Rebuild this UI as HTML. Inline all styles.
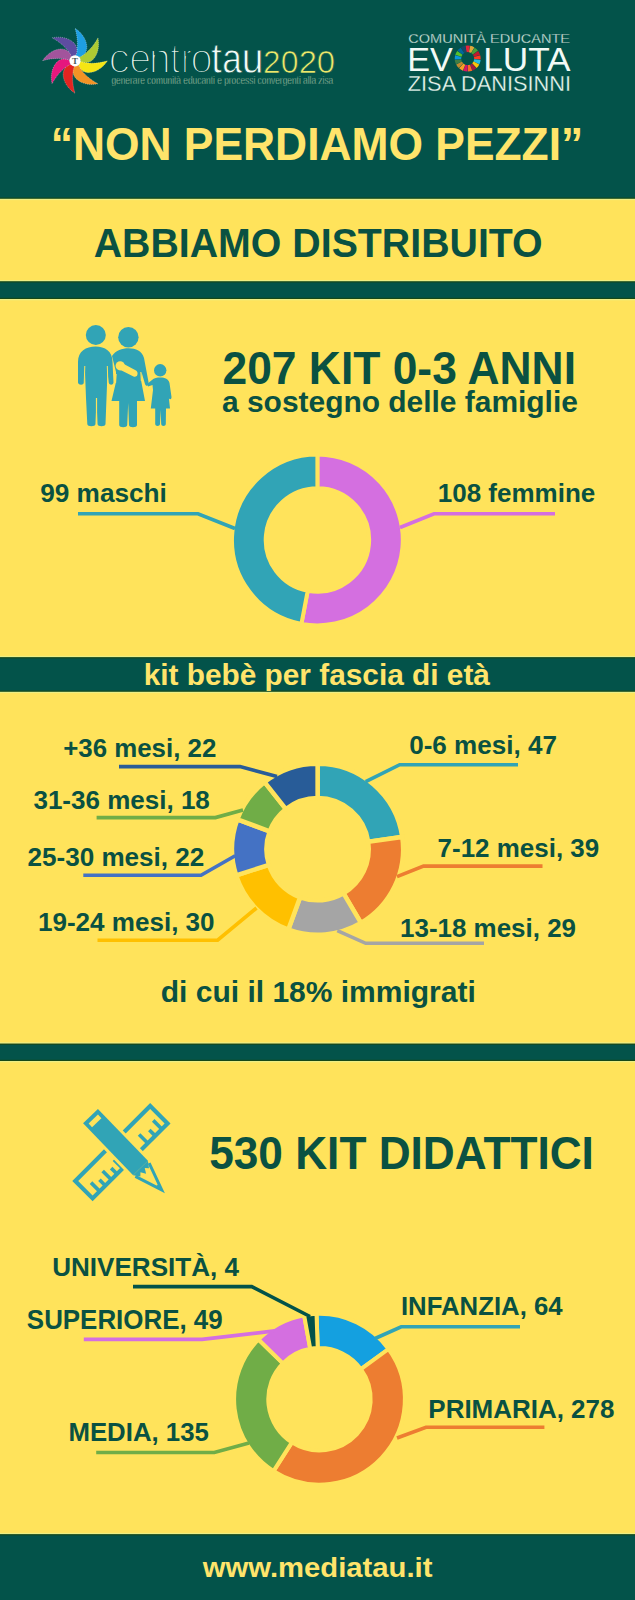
<!DOCTYPE html>
<html><head><meta charset="utf-8"><style>
html,body{margin:0;padding:0;background:#FFE35B;}
body{width:635px;height:1600px;overflow:hidden;position:relative;}
svg{position:absolute;left:0;top:0;font-family:"Liberation Sans",sans-serif;}
</style></head><body>
<svg width="635" height="1600" viewBox="0 0 635 1600">
<rect x="0" y="-5" width="635" height="203.80" fill="#03534A"/>
<rect x="0" y="197.60" width="635" height="1.2" fill="#1A4712" opacity="0.9"/>
<rect x="0" y="198.80" width="635" height="1.3" fill="#E9F08E" opacity="0.8"/>
<rect x="0" y="281.3" width="635" height="17.70" fill="#03534A"/>
<rect x="0" y="280.00" width="635" height="1.3" fill="#E9F08E" opacity="0.8"/>
<rect x="0" y="281.30" width="635" height="1.2" fill="#1A4712" opacity="0.8"/>
<rect x="0" y="297.80" width="635" height="1.2" fill="#1A4712" opacity="0.9"/>
<rect x="0" y="299.00" width="635" height="1.3" fill="#E9F08E" opacity="0.8"/>
<rect x="0" y="657.2" width="635" height="34.60" fill="#03534A"/>
<rect x="0" y="655.90" width="635" height="1.3" fill="#E9F08E" opacity="0.8"/>
<rect x="0" y="657.20" width="635" height="1.2" fill="#1A4712" opacity="0.8"/>
<rect x="0" y="690.60" width="635" height="1.2" fill="#1A4712" opacity="0.9"/>
<rect x="0" y="691.80" width="635" height="1.3" fill="#E9F08E" opacity="0.8"/>
<rect x="0" y="1043.6" width="635" height="17.40" fill="#03534A"/>
<rect x="0" y="1042.30" width="635" height="1.3" fill="#E9F08E" opacity="0.8"/>
<rect x="0" y="1043.60" width="635" height="1.2" fill="#1A4712" opacity="0.8"/>
<rect x="0" y="1059.80" width="635" height="1.2" fill="#1A4712" opacity="0.9"/>
<rect x="0" y="1061.00" width="635" height="1.3" fill="#E9F08E" opacity="0.8"/>
<rect x="0" y="1534.2" width="635" height="70.80" fill="#03534A"/>
<rect x="0" y="1532.90" width="635" height="1.3" fill="#E9F08E" opacity="0.8"/>
<rect x="0" y="1534.20" width="635" height="1.2" fill="#1A4712" opacity="0.8"/>
<path d="M0.5,-5 C3,-12 3.2,-22 0,-32.5 C6,-28.5 11,-22.5 11.8,-15 C12.3,-9 9,-5 5,-3.5 Z" fill="#1E9FE3" stroke="#ffffff" stroke-opacity="0.55" stroke-width="0.6" stroke-dasharray="1 1" transform="translate(75,60.8) rotate(0)"/>
<path d="M0.5,-5 C3,-12 3.2,-22 0,-32.5 C6,-28.5 11,-22.5 11.8,-15 C12.3,-9 9,-5 5,-3.5 Z" fill="#AECB32" stroke="#ffffff" stroke-opacity="0.55" stroke-width="0.6" stroke-dasharray="1 1" transform="translate(75,60.8) rotate(45)"/>
<path d="M0.5,-5 C3,-12 3.2,-22 0,-32.5 C6,-28.5 11,-22.5 11.8,-15 C12.3,-9 9,-5 5,-3.5 Z" fill="#F5E614" stroke="#ffffff" stroke-opacity="0.55" stroke-width="0.6" stroke-dasharray="1 1" transform="translate(75,60.8) rotate(90)"/>
<path d="M0.5,-5 C3,-12 3.2,-22 0,-32.5 C6,-28.5 11,-22.5 11.8,-15 C12.3,-9 9,-5 5,-3.5 Z" fill="#F39325" stroke="#ffffff" stroke-opacity="0.55" stroke-width="0.6" stroke-dasharray="1 1" transform="translate(75,60.8) rotate(135)"/>
<path d="M0.5,-5 C3,-12 3.2,-22 0,-32.5 C6,-28.5 11,-22.5 11.8,-15 C12.3,-9 9,-5 5,-3.5 Z" fill="#E42421" stroke="#ffffff" stroke-opacity="0.55" stroke-width="0.6" stroke-dasharray="1 1" transform="translate(75,60.8) rotate(180)"/>
<path d="M0.5,-5 C3,-12 3.2,-22 0,-32.5 C6,-28.5 11,-22.5 11.8,-15 C12.3,-9 9,-5 5,-3.5 Z" fill="#E5177E" stroke="#ffffff" stroke-opacity="0.55" stroke-width="0.6" stroke-dasharray="1 1" transform="translate(75,60.8) rotate(225)"/>
<path d="M0.5,-5 C3,-12 3.2,-22 0,-32.5 C6,-28.5 11,-22.5 11.8,-15 C12.3,-9 9,-5 5,-3.5 Z" fill="#A2549C" stroke="#ffffff" stroke-opacity="0.55" stroke-width="0.6" stroke-dasharray="1 1" transform="translate(75,60.8) rotate(270)"/>
<path d="M0.5,-5 C3,-12 3.2,-22 0,-32.5 C6,-28.5 11,-22.5 11.8,-15 C12.3,-9 9,-5 5,-3.5 Z" fill="#5D4CA0" stroke="#ffffff" stroke-opacity="0.55" stroke-width="0.6" stroke-dasharray="1 1" transform="translate(75,60.8) rotate(315)"/>
<circle cx="75" cy="60.8" r="5.6" fill="#ffffff"/>
<text x="75" y="64.0" font-size="9" font-family="Liberation Serif" font-weight="bold" fill="#4a5a5a" text-anchor="middle">T</text>
<text transform="translate(111.38,84.3) scale(0.8362,1.0000)" font-size="10" font-weight="normal" fill="#BCD3B4" stroke="#03534A" stroke-width="0.35">generare comunità educanti e processi convergenti alla zisa</text>
<path d="M465.49,45.79 A13,13 0 0 1 469.91,45.79 L468.80,52.19 A6.5,6.5 0 0 0 466.59,52.19 Z" fill="#E5243B"/>
<path d="M470.26,45.86 A13,13 0 0 1 474.39,47.45 L471.04,53.03 A6.5,6.5 0 0 0 468.98,52.23 Z" fill="#DDA63A"/>
<path d="M474.70,47.64 A13,13 0 0 1 477.96,50.62 L472.83,54.61 A6.5,6.5 0 0 0 471.20,53.12 Z" fill="#4C9F38"/>
<path d="M478.18,50.91 A13,13 0 0 1 480.15,54.87 L473.93,56.73 A6.5,6.5 0 0 0 472.94,54.75 Z" fill="#C5192D"/>
<path d="M480.25,55.21 A13,13 0 0 1 480.66,59.62 L474.18,59.11 A6.5,6.5 0 0 0 473.98,56.91 Z" fill="#FF3A21"/>
<path d="M480.63,59.98 A13,13 0 0 1 479.42,64.23 L473.56,61.41 A6.5,6.5 0 0 0 474.16,59.29 Z" fill="#26BDE2"/>
<path d="M479.26,64.55 A13,13 0 0 1 476.59,68.08 L472.15,63.34 A6.5,6.5 0 0 0 473.48,61.58 Z" fill="#FCC30B"/>
<path d="M476.33,68.33 A13,13 0 0 1 472.57,70.65 L470.13,64.63 A6.5,6.5 0 0 0 472.01,63.46 Z" fill="#A21942"/>
<path d="M472.23,70.79 A13,13 0 0 1 467.88,71.60 L467.79,65.10 A6.5,6.5 0 0 0 469.96,64.69 Z" fill="#FD6925"/>
<path d="M467.52,71.60 A13,13 0 0 1 463.18,70.79 L465.44,64.69 A6.5,6.5 0 0 0 467.61,65.10 Z" fill="#DD1367"/>
<path d="M462.84,70.66 A13,13 0 0 1 459.08,68.33 L463.39,63.47 A6.5,6.5 0 0 0 465.27,64.63 Z" fill="#FD9D24"/>
<path d="M458.81,68.09 A13,13 0 0 1 456.15,64.56 L461.92,61.58 A6.5,6.5 0 0 0 463.26,63.34 Z" fill="#BF8B2E"/>
<path d="M455.98,64.23 A13,13 0 0 1 454.77,59.98 L461.24,59.29 A6.5,6.5 0 0 0 461.84,61.42 Z" fill="#3F7E44"/>
<path d="M454.74,59.62 A13,13 0 0 1 455.15,55.22 L461.42,56.91 A6.5,6.5 0 0 0 461.22,59.11 Z" fill="#0A97D9"/>
<path d="M455.25,54.87 A13,13 0 0 1 457.22,50.91 L462.46,54.76 A6.5,6.5 0 0 0 461.47,56.74 Z" fill="#56C02B"/>
<path d="M457.43,50.62 A13,13 0 0 1 460.70,47.65 L464.20,53.12 A6.5,6.5 0 0 0 462.57,54.61 Z" fill="#00689D"/>
<path d="M461.01,47.45 A13,13 0 0 1 465.13,45.86 L466.42,52.23 A6.5,6.5 0 0 0 464.35,53.03 Z" fill="#19486A"/>
<text transform="translate(408.28,42.6) scale(1.0868,1.0000)" font-size="13.4" font-weight="normal" fill="#EAF8F0" stroke="#03534A" stroke-width="0.3">COMUNITÀ EDUCANTE</text>
<text transform="translate(407.23,70.8) scale(1.0059,1.0000)" font-size="34" font-weight="normal" fill="#F2FAF6" >EV</text>
<text transform="translate(483.15,70.8) scale(1.0368,1.0000)" font-size="34" font-weight="normal" fill="#F2FAF6" >LUTA</text>
<text transform="translate(407.76,91.4) scale(0.9904,1.0000)" font-size="22" font-weight="normal" fill="#EAF8F0" stroke="#03534A" stroke-width="0.3">ZISA DANISINNI</text>
<text transform="translate(50.74,159.5) scale(1.0019,1.0350)" font-size="44.3" font-weight="bold" fill="#FFE46B" >“NON PERDIAMO PEZZI”</text>
<text transform="translate(93.70,257.3) scale(1.0001,1.0350)" font-size="39.3" font-weight="bold" fill="#0A5142" >ABBIAMO DISTRIBUITO</text>
<text transform="translate(222.49,383.5) scale(1.0043,1.0350)" font-size="44.2" font-weight="bold" fill="#0A5142" >207 KIT 0-3 ANNI</text>
<text transform="translate(222.00,412) scale(1.0014,1.0000)" font-size="29.9" font-weight="bold" fill="#0A5142" >a sostegno delle famiglie</text>
<path d="M317.40,454.60 A85.4,85.4 0 1 1 301.40,623.89 L307.71,590.78 A51.7,51.7 0 1 0 317.40,488.30 Z" fill="#D46FE0" stroke="#FFE35B" stroke-width="4" stroke-linejoin="miter"/>
<path d="M301.40,623.89 A85.4,85.4 0 0 1 317.40,454.60 L317.40,488.30 A51.7,51.7 0 0 0 307.71,590.78 Z" fill="#31A4B6" stroke="#FFE35B" stroke-width="4" stroke-linejoin="miter"/>
<text transform="translate(40.20,502) scale(1.0004,1.0000)" font-size="26.2" font-weight="bold" fill="#0A5142" >99 maschi</text>
<text transform="translate(437.76,502) scale(0.9929,1.0000)" font-size="26.2" font-weight="bold" fill="#0A5142" >108 femmine</text>
<polyline points="78,513.8 198,513.8 235,528.5" fill="none" stroke="#31A4B6" stroke-width="3.6" stroke-linejoin="miter"/>
<polyline points="555,513.8 434,513.8 400,527.5" fill="none" stroke="#D46FE0" stroke-width="3.6" stroke-linejoin="miter"/>
<text transform="translate(143.69,684.6) scale(1.0038,0.9747)" font-size="29.7" font-weight="bold" fill="#FFE46B" >kit bebè per fascia di età</text>
<path d="M317.60,763.65 A85.55,85.55 0 0 1 402.26,836.91 L368.22,841.85 A51.15,51.15 0 0 0 317.60,798.05 Z" fill="#31A4B6" stroke="#FFE35B" stroke-width="4.5" stroke-linejoin="miter"/>
<path d="M402.26,836.91 A85.55,85.55 0 0 1 360.94,922.96 L343.51,893.30 A51.15,51.15 0 0 0 368.22,841.85 Z" fill="#ED7D31" stroke="#FFE35B" stroke-width="4.5" stroke-linejoin="miter"/>
<path d="M360.94,922.96 A85.55,85.55 0 0 1 288.34,929.59 L300.11,897.27 A51.15,51.15 0 0 0 343.51,893.30 Z" fill="#A5A5A5" stroke="#FFE35B" stroke-width="4.5" stroke-linejoin="miter"/>
<path d="M288.34,929.59 A85.55,85.55 0 0 1 236.16,875.39 L268.91,864.86 A51.15,51.15 0 0 0 300.11,897.27 Z" fill="#FFC000" stroke="#FFE35B" stroke-width="4.5" stroke-linejoin="miter"/>
<path d="M236.16,875.39 A85.55,85.55 0 0 1 237.43,819.33 L269.67,831.34 A51.15,51.15 0 0 0 268.91,864.86 Z" fill="#4472C4" stroke="#FFE35B" stroke-width="4.5" stroke-linejoin="miter"/>
<path d="M237.43,819.33 A85.55,85.55 0 0 1 264.62,782.03 L285.93,809.04 A51.15,51.15 0 0 0 269.67,831.34 Z" fill="#70AD47" stroke="#FFE35B" stroke-width="4.5" stroke-linejoin="miter"/>
<path d="M264.62,782.03 A85.55,85.55 0 0 1 317.60,763.65 L317.60,798.05 A51.15,51.15 0 0 0 285.93,809.04 Z" fill="#285C98" stroke="#FFE35B" stroke-width="4.5" stroke-linejoin="miter"/>
<text transform="translate(63.21,757.2) scale(0.9947,1.0000)" font-size="26" font-weight="bold" fill="#0A5142" >+36 mesi, 22</text>
<text transform="translate(33.45,809.4) scale(1.0003,1.0000)" font-size="26" font-weight="bold" fill="#0A5142" >31-36 mesi, 18</text>
<text transform="translate(27.50,866.1) scale(1.0032,1.0000)" font-size="26" font-weight="bold" fill="#0A5142" >25-30 mesi, 22</text>
<text transform="translate(37.95,930.8) scale(1.0017,1.0000)" font-size="26" font-weight="bold" fill="#0A5142" >19-24 mesi, 30</text>
<text transform="translate(409.20,753.6) scale(1.0024,0.9760)" font-size="26" font-weight="bold" fill="#0A5142" >0-6 mesi, 47</text>
<text transform="translate(437.60,856.7) scale(0.9987,1.0000)" font-size="26" font-weight="bold" fill="#0A5142" >7-12 mesi, 39</text>
<text transform="translate(400.05,936.8) scale(0.9977,1.0000)" font-size="26" font-weight="bold" fill="#0A5142" >13-18 mesi, 29</text>
<polyline points="119,766.6 240,766.6 277,776.5" fill="none" stroke="#285C98" stroke-width="3.6" stroke-linejoin="miter"/>
<polyline points="96.6,817.6 215.4,817.6 243,810" fill="none" stroke="#70AD47" stroke-width="3.6" stroke-linejoin="miter"/>
<polyline points="83.3,875.3 201,875.3 235.2,855.7" fill="none" stroke="#4472C4" stroke-width="3.6" stroke-linejoin="miter"/>
<polyline points="97.5,940.2 217.6,940.2 256.5,908" fill="none" stroke="#FFC000" stroke-width="3.6" stroke-linejoin="miter"/>
<polyline points="518,764.7 399.7,764.7 365.7,781.7" fill="none" stroke="#31A4B6" stroke-width="3.6" stroke-linejoin="miter"/>
<polyline points="542.5,866.1 423.5,866.1 397,876.7" fill="none" stroke="#ED7D31" stroke-width="3.6" stroke-linejoin="miter"/>
<polyline points="484,943.3 365.7,943.3 337.3,930.7" fill="none" stroke="#A5A5A5" stroke-width="3.6" stroke-linejoin="miter"/>
<text transform="translate(160.75,1002) scale(1.0039,1.0000)" font-size="29.9" font-weight="bold" fill="#0A5142" >di cui il 18% immigrati</text>
<text transform="translate(209.20,1169.4) scale(1.0001,1.0350)" font-size="44.2" font-weight="bold" fill="#0A5142" >530 KIT DIDATTICI</text>
<path d="M316.52,1313.85 A85.4,85.4 0 0 1 388.59,1349.00 L360.92,1369.11 A51.2,51.2 0 0 0 317.71,1348.03 Z" fill="#14A0E0" stroke="#FFE35B" stroke-width="4" stroke-linejoin="miter"/>
<path d="M388.59,1349.00 A85.4,85.4 0 0 1 273.49,1471.15 L291.91,1442.33 A51.2,51.2 0 0 0 360.92,1369.11 Z" fill="#ED7D31" stroke="#FFE35B" stroke-width="4" stroke-linejoin="miter"/>
<path d="M273.49,1471.15 A85.4,85.4 0 0 1 258.48,1339.45 L282.92,1363.38 A51.2,51.2 0 0 0 291.91,1442.33 Z" fill="#70AD47" stroke="#FFE35B" stroke-width="4" stroke-linejoin="miter"/>
<path d="M258.48,1339.45 A85.4,85.4 0 0 1 304.08,1315.20 L310.26,1348.84 A51.2,51.2 0 0 0 282.92,1363.38 Z" fill="#D46FE0" stroke="#FFE35B" stroke-width="4" stroke-linejoin="miter"/>
<path d="M304.08,1315.20 A85.4,85.4 0 0 1 316.52,1313.85 L317.71,1348.03 A51.2,51.2 0 0 0 310.26,1348.84 Z" fill="#03534A" stroke="#FFE35B" stroke-width="4" stroke-linejoin="miter"/>
<text transform="translate(52.20,1276) scale(1.0030,1.0000)" font-size="26" font-weight="bold" fill="#0A5142" >UNIVERSITÀ, 4</text>
<text transform="translate(26.85,1329.4) scale(0.9967,1.0444)" font-size="26" font-weight="bold" fill="#0A5142" >SUPERIORE, 49</text>
<text transform="translate(68.47,1440.9) scale(0.9914,1.0000)" font-size="26" font-weight="bold" fill="#0A5142" >MEDIA, 135</text>
<text transform="translate(400.97,1315.3) scale(0.9907,1.0000)" font-size="26" font-weight="bold" fill="#0A5142" >INFANZIA, 64</text>
<text transform="translate(428.35,1418.3) scale(0.9992,1.0000)" font-size="26" font-weight="bold" fill="#0A5142" >PRIMARIA, 278</text>
<polyline points="133,1286.6 251.7,1286.6 310,1316.5" fill="none" stroke="#03534A" stroke-width="3.6" stroke-linejoin="miter"/>
<polyline points="83.8,1339.4 202,1339.4 274.8,1330.9" fill="none" stroke="#D46FE0" stroke-width="3.6" stroke-linejoin="miter"/>
<polyline points="96.2,1452.5 214.3,1452.5 249,1443" fill="none" stroke="#70AD47" stroke-width="3.6" stroke-linejoin="miter"/>
<polyline points="520,1326.8 401.2,1326.8 375,1338.5" fill="none" stroke="#31A4B6" stroke-width="3.6" stroke-linejoin="miter"/>
<polyline points="544.4,1427.2 426,1427.2 397,1438" fill="none" stroke="#ED7D31" stroke-width="3.6" stroke-linejoin="miter"/>
<text transform="translate(202.80,1577) scale(1.0086,0.9571)" font-size="29" font-weight="bold" fill="#FFE46B" >www.mediatau.it</text>
<circle cx="95.8" cy="335" r="10" fill="#31A4B6"/>
<path d="M78,382.5 L78,362 C78,351 86,346.5 95.5,346.5 C105,346.5 112.5,351 112.5,362 L113.5,382.5 C113,385.5 109.5,385.5 108.6,382.5 L107.5,372 L106.5,398 L105.5,424 C105.5,427 97.5,427 97.5,424 L96.5,400 L95.5,424 C95.5,427 87.3,427 87.3,424 L86,398 L85,372 L84.2,382.5 C83.5,385.5 78.5,385.5 78,382.5 Z" fill="#31A4B6"/>
<circle cx="128.4" cy="337.2" r="10.2" fill="#31A4B6"/>
<path d="M112,356 C116,350 122,348.2 128.5,348.2 C136,348.2 142,351 144,358 L148.5,382 C149,386 146,387 145,384 L141.5,372 L141,380 L145,401 L137,401 L137,425 C137,428 129,428 129,425 L128.2,403 L127.2,425 C127.2,428 119.2,428 119.2,425 L119.2,401 L111.5,401 L116,382 L116,372 Z" fill="#31A4B6"/>
<circle cx="120.2" cy="365.8" r="4.6" fill="#FFE35B"/>
<path d="M121,362.5 L136,370.5 C139,372.5 137.5,378 133.5,376.5 L119.5,369.5 Z" fill="#FFE35B"/>
<circle cx="160.2" cy="370.3" r="6.2" fill="#31A4B6"/>
<path d="M147,384 L152,380 C154,378 157,377.5 160.5,377.5 C165,377.5 168.5,379 169.5,383 L171.5,397 C171.5,400 169,400 168.5,397 L168,390 L170,408.5 L166,408.5 L165.8,424 C165.8,426.5 161.2,426.5 161.2,424 L160.6,410 L160,424 C160,426.5 155.2,426.5 155.2,424 L155.2,408.5 L150.8,408.5 L153,390 L152.5,385 L148,386.5 Z" fill="#31A4B6"/>
<line x1="84.8" y1="366" x2="84.2" y2="384" stroke="#FFE35B" stroke-width="1"/>
<line x1="107.3" y1="366" x2="107.9" y2="384" stroke="#FFE35B" stroke-width="1"/>
<line x1="116.2" y1="374" x2="115.6" y2="383" stroke="#FFE35B" stroke-width="1"/>
<line x1="140.8" y1="372" x2="141.3" y2="381" stroke="#FFE35B" stroke-width="1"/>
<line x1="96.5" y1="398" x2="96.5" y2="426" stroke="#FFE35B" stroke-width="1.2"/>
<g transform="translate(121.4,1152.2) rotate(-45)"><rect x="-53" y="-12.3" width="106" height="24.6" fill="none" stroke="#31A4B6" stroke-width="4.2"/><rect x="-44.8" y="0" width="3.6" height="11" fill="#31A4B6"/><rect x="-36.8" y="4" width="3.6" height="7" fill="#31A4B6"/><rect x="-28.3" y="0" width="3.6" height="11" fill="#31A4B6"/><rect x="-20.3" y="4" width="3.6" height="7" fill="#31A4B6"/><rect x="-12.3" y="0" width="3.6" height="11" fill="#31A4B6"/><rect x="23.2" y="0" width="3.6" height="11" fill="#31A4B6"/><rect x="33.7" y="4" width="3.6" height="7" fill="#31A4B6"/><rect x="43.2" y="0" width="3.6" height="11" fill="#31A4B6"/></g>
<g transform="translate(90.5,1116.2) rotate(46)"><path d="M0,-10.3 L74,-10.3 L104,0 L74,10.3 L0,10.3 Z" fill="#FFE35B" stroke="#FFE35B" stroke-width="6" stroke-linejoin="miter"/><rect x="0" y="-10.3" width="72" height="20.6" fill="#31A4B6"/><rect x="4" y="-6.5" width="5" height="13" fill="#FFE35B"/><path d="M74.5,-9.6 L102.5,0 L74.5,9.6" fill="none" stroke="#31A4B6" stroke-width="3" stroke-linejoin="miter"/><path d="M72,-10.3 L78,-6 L75,-3 L80,0 L75,3 L78,6 L72,10.3 Z" fill="#31A4B6"/><path d="M96,-2.6 L104,0 L96,2.6 Z" fill="#31A4B6"/></g>
<text transform="translate(108.61,72.5) scale(1.0222,1.0000)" font-size="42" font-weight="normal" fill="#E8F6EE" stroke="#03534A" stroke-width="2.2">c</text>
<text transform="translate(129.16,72.5) scale(0.9367,1.0000)" font-size="42" font-weight="normal" fill="#E8F6EE" stroke="#03534A" stroke-width="2.2">e</text>
<text transform="translate(149.06,72.5) scale(0.9222,1.0000)" font-size="42" font-weight="normal" fill="#E8F6EE" stroke="#03534A" stroke-width="2.2">n</text>
<text transform="translate(170.28,72.5) scale(0.8286,1.0000)" font-size="42" font-weight="normal" fill="#E8F6EE" stroke="#03534A" stroke-width="2.2">t</text>
<text transform="translate(181.54,72.5) scale(0.7143,1.0000)" font-size="42" font-weight="normal" fill="#E8F6EE" stroke="#03534A" stroke-width="2.2">r</text>
<text transform="translate(190.53,72.5) scale(0.9519,1.0000)" font-size="42" font-weight="normal" fill="#E8F6EE" stroke="#03534A" stroke-width="2.2">o</text>
<text transform="translate(211.13,72.5) scale(0.8952,1.0000)" font-size="42" font-weight="normal" fill="#F2FAF6" stroke="#03534A" stroke-width="0.8">t</text>
<text transform="translate(222.13,72.5) scale(0.8372,1.0000)" font-size="42" font-weight="normal" fill="#F2FAF6" stroke="#03534A" stroke-width="0.8">a</text>
<text transform="translate(241.84,72.5) scale(0.9296,1.0000)" font-size="42" font-weight="normal" fill="#F2FAF6" stroke="#03534A" stroke-width="0.8">u</text>
<text transform="translate(262.93,73.2) scale(0.9831,1.0000)" font-size="32" font-weight="normal" fill="#ECE86A" stroke="#03534A" stroke-width="0.7">2</text>
<text transform="translate(280.75,73.2) scale(0.9967,1.0000)" font-size="32" font-weight="normal" fill="#ECE86A" stroke="#03534A" stroke-width="0.7">0</text>
<text transform="translate(298.76,73.2) scale(1.0237,1.0000)" font-size="32" font-weight="normal" fill="#ECE86A" stroke="#03534A" stroke-width="0.7">2</text>
<text transform="translate(316.71,73.2) scale(1.0295,1.0000)" font-size="32" font-weight="normal" fill="#ECE86A" stroke="#03534A" stroke-width="0.7">0</text>
</svg>
</body></html>
